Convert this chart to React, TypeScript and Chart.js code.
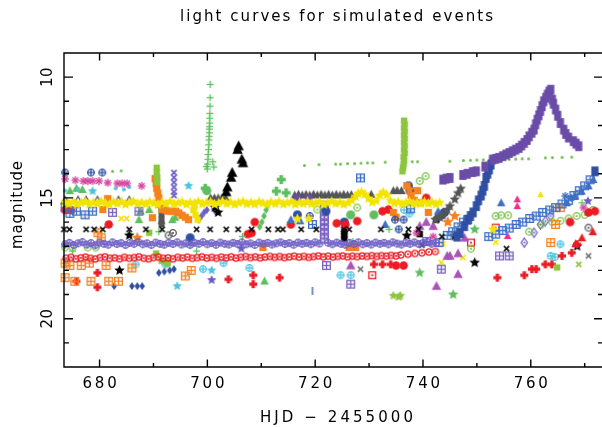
import { useEffect, useRef } from 'react';
import { Chart, registerables } from 'chart.js';

Chart.register(...registerables);

// ---------- axes / text ----------
const xMin = 673.4;
const xMax = 773.4;
const yMin = 9;
const yMax = 22;
const xMajorTicks = [680, 700, 720, 740, 760];
const xMinorTicks = [690, 710, 730, 750, 770];
const yMajorTicks = [10, 15, 20];
const yMinorTicks = [11, 12, 13, 14, 16, 17, 18, 19, 21];
const titleText = 'light curves for simulated events';
const xTitleText = 'HJD − 2455000';
const yTitleText = 'magnitude';

// ---------- data: [HJD-2455000, magnitude] ----------
const yellowStars = [
  [673.6, 15.18], [674.3, 15.25], [675.1, 15.16], [675.8, 15.27], [676.6, 15.2], [677.3, 15.15], [678.1, 15.26], [678.8, 15.19],
  [679.6, 15.24], [680.3, 15.15], [681.1, 15.22], [681.8, 15.28], [682.6, 15.17], [683.3, 15.23], [684.1, 15.16], [684.8, 15.27],
  [685.6, 15.2], [686.3, 15.14], [687.1, 15.25], [687.8, 15.19], [688.6, 15.26], [689.3, 15.16], [690.1, 15.22], [690.8, 15.28],
  [691.6, 15.18], [692.3, 15.24], [693.1, 15.15], [693.8, 15.26], [694.6, 15.2], [695.3, 15.17], [696.1, 15.27], [696.8, 15.19],
  [697.6, 15.23], [698.3, 15.15], [699.1, 15.25], [699.8, 15.2], [700.6, 15.16], [701.3, 15.27], [702.1, 15.21], [702.8, 15.15],
  [703.6, 15.24], [704.3, 15.18], [705.1, 15.27], [705.8, 15.2], [706.6, 15.15], [707.3, 15.25], [708.1, 15.19], [708.8, 15.26],
  [709.6, 15.16], [710.3, 15.22], [711.1, 15.28], [711.8, 15.17], [712.6, 15.24], [713.3, 15.15], [714.1, 15.26], [714.8, 15.2],
  [715.6, 15.16], [716.3, 15.27], [717.1, 15.19], [717.8, 15.23], [718.6, 15.15], [719.3, 15.25], [720.1, 15.2], [720.8, 15.16],
  [721.6, 15.27], [722.3, 15.21], [723.1, 15.15], [723.8, 15.24], [724.6, 15.18], [725.3, 15.27], [726.1, 15.2], [726.8, 15.1],
  [727.5, 14.95], [728.0, 14.82], [728.6, 14.76], [729.2, 14.85], [729.9, 15.02], [730.6, 15.18], [731.3, 15.12], [732.0, 14.9],
  [732.6, 14.76], [733.3, 14.88], [734.0, 15.12], [734.7, 15.22], [735.4, 15.17], [736.1, 15.26], [736.8, 15.2], [737.5, 15.15],
  [738.2, 15.25], [738.9, 15.19], [739.6, 15.24], [740.3, 15.16], [741.0, 15.23], [741.7, 15.18], [742.4, 15.26], [743.1, 15.2],
  [716.7, 15.86], [718.8, 15.86], [753.0, 16.3],
];

const purpleBand = [
  [673.6, 16.92], [674.4, 16.86], [675.2, 16.95], [676.0, 16.88], [676.8, 16.83], [677.6, 16.93], [678.4, 16.87], [679.2, 16.96],
  [680.0, 16.85], [680.8, 16.9], [681.6, 16.94], [682.4, 16.84], [683.2, 16.91], [684.0, 16.87], [684.8, 16.95], [685.6, 16.86],
  [686.4, 16.9], [687.2, 16.83], [688.0, 16.92], [688.8, 16.88], [689.6, 16.95], [690.4, 16.85], [691.2, 16.9], [692.0, 16.94],
  [692.8, 16.86], [693.6, 16.91], [694.4, 16.84], [695.2, 16.93], [696.0, 16.88], [696.8, 16.95], [697.6, 16.86], [698.4, 16.9],
  [699.2, 16.83], [700.0, 16.92], [700.8, 16.87], [701.6, 16.94], [702.4, 16.85], [703.2, 16.9], [704.0, 16.93], [704.8, 16.86],
  [705.6, 16.91], [706.4, 16.84], [707.2, 16.92], [708.0, 16.88], [708.8, 16.95], [709.6, 16.85], [710.4, 16.9], [711.2, 16.86],
  [712.0, 16.93], [712.8, 16.88], [713.6, 16.84], [714.4, 16.91], [715.2, 16.87], [716.0, 16.94], [716.8, 16.85], [717.6, 16.9],
  [718.4, 16.86], [719.2, 16.92], [720.0, 16.84], [720.8, 16.89], [722.4, 16.86], [723.2, 16.92], [724.0, 16.85], [724.8, 16.9],
  [725.6, 16.94], [726.4, 16.86], [727.2, 16.91], [728.0, 16.84], [728.8, 16.92], [729.6, 16.87], [730.4, 16.93], [731.2, 16.85],
  [732.0, 16.9], [732.8, 16.86], [733.6, 16.92], [734.4, 16.84], [735.2, 16.89], [736.0, 16.93], [736.8, 16.86], [737.6, 16.9],
  [738.4, 16.84], [739.2, 16.91], [740.0, 16.87], [740.8, 16.83], [741.6, 16.9], [742.4, 16.86],
];

const redBand = [
  [673.8, 17.5], [674.7, 17.46], [675.6, 17.52], [676.5, 17.48], [677.4, 17.45], [678.3, 17.5], [679.2, 17.53], [680.1, 17.47],
  [681.0, 17.44], [681.9, 17.5], [682.8, 17.48], [683.7, 17.52], [684.6, 17.46], [685.5, 17.5], [686.4, 17.47], [687.3, 17.44],
  [688.2, 17.5], [689.1, 17.52], [690.0, 17.47], [690.9, 17.45], [691.8, 17.5], [692.7, 17.48], [693.6, 17.52], [694.5, 17.46],
  [695.4, 17.49], [696.3, 17.45], [697.2, 17.5], [698.1, 17.47], [699.0, 17.44], [699.9, 17.49], [700.8, 17.46], [701.7, 17.5],
  [702.6, 17.45], [703.5, 17.48], [704.4, 17.44], [705.3, 17.49], [706.2, 17.46], [707.1, 17.43], [708.0, 17.47], [708.9, 17.44],
  [709.8, 17.48], [710.7, 17.45], [711.6, 17.42], [712.5, 17.46], [713.4, 17.43], [714.3, 17.47], [715.2, 17.44], [716.1, 17.41],
  [717.0, 17.45], [717.9, 17.42], [718.8, 17.46], [719.7, 17.43], [720.6, 17.4], [721.5, 17.44], [722.4, 17.41], [723.3, 17.45],
  [724.2, 17.42], [725.1, 17.4], [726.0, 17.44], [726.9, 17.41], [727.8, 17.43], [728.7, 17.4], [729.6, 17.42], [730.5, 17.39],
  [731.4, 17.42], [732.3, 17.39], [733.2, 17.41], [734.1, 17.38], [735.0, 17.4], [735.9, 17.36], [737.2, 17.33], [738.5, 17.3],
  [739.8, 17.27], [741.1, 17.24], [742.3, 17.22],
];

const blackCrosses = [
  [673.4, 16.3], [674.4, 16.3], [677.5, 16.3], [679.0, 16.3], [680.6, 16.3], [685.5, 16.3], [688.6, 16.3], [691.6, 16.3],
  [698.0, 16.3], [700.5, 16.3], [703.5, 16.3], [705.7, 16.3], [708.2, 16.3], [711.3, 16.3], [713.1, 16.3], [714.0, 16.3],
  [717.4, 16.3], [720.2, 16.3], [725.3, 16.3], [726.3, 16.3], [732.2, 16.3], [737.3, 16.3], [739.2, 16.3], [743.5, 16.6],
  [739.8, 16.95], [755.5, 17.1],
];

const grayOpenTriangles = [
  [673.6, 15.1], [676.0, 15.1], [677.5, 15.1], [679.6, 15.1], [683.5, 15.1], [685.5, 15.1],
];

const grayTriangles = [
  [700.6, 15.0], [701.3, 15.0], [702.0, 15.0], [702.7, 15.0], [703.4, 15.0],
  [716.2, 14.88], [716.9, 14.85], [717.6, 14.88], [718.3, 14.85], [719.0, 14.88], [719.7, 14.85], [720.4, 14.88], [721.1, 14.85],
  [721.8, 14.88], [722.5, 14.85], [723.2, 14.88], [723.9, 14.85], [724.6, 14.88], [725.3, 14.85], [726.0, 14.88], [726.7, 14.86],
  [730.4, 14.85], [734.5, 14.7], [735.2, 14.68], [736.0, 14.7],
];

const grayStars = [
  [742.3, 15.9], [743.1, 15.8], [743.7, 15.7], [744.5, 15.5], [745.0, 15.34], [745.9, 15.06], [746.5, 14.8], [747.0, 14.62],
];

const greenPlus = [
  [700.0, 13.8], [700.05, 13.6], [700.1, 13.4], [700.15, 13.2], [700.2, 13.0], [700.25, 12.8], [700.3, 12.6], [700.32, 12.45],
  [700.35, 12.3], [700.37, 12.15], [700.4, 12.05], [700.42, 11.9], [700.44, 11.7], [700.46, 11.5], [700.48, 11.2], [700.5, 10.85],
  [700.52, 10.3], [701.0, 13.5], [701.2, 13.72], [699.8, 13.7],
  [675.0, 17.2], [691.0, 16.4], [697.0, 16.9], [698.0, 17.2], [727.0, 16.8], [733.7, 16.3], [769.5, 15.2], [706.5, 16.6],
];

const limeSquares = [
  [736.5, 11.8], [736.6, 11.95], [736.5, 12.1], [736.6, 12.25], [736.5, 12.4], [736.6, 12.55], [736.5, 12.7], [736.6, 12.85],
  [736.5, 13.0], [736.6, 13.15], [736.4, 13.3], [736.5, 13.45], [736.4, 13.6], [736.3, 13.75], [736.2, 13.9],
  [690.6, 13.75], [690.6, 13.95], [690.7, 14.15], [690.7, 14.35],
  [689.2, 16.44], [690.5, 17.3], [691.5, 17.6], [692.6, 17.7], [764.9, 17.88],
];

const blackTriangles = [
  [703.5, 14.75], [703.7, 14.55], [704.4, 14.15], [704.6, 13.95], [705.6, 13.0], [705.8, 12.85], [706.4, 13.4], [706.6, 13.55],
];

const purpleEvent = [
  [743.7, 14.24], [744.3, 14.2], [745.0, 14.17], [747.4, 14.05], [748.2, 14.0], [749.2, 13.93], [749.9, 13.9], [751.5, 13.7],
  [752.9, 13.41], [753.5, 13.38], [754.1, 13.34], [754.8, 13.27], [755.4, 13.2], [756.0, 13.14], [756.6, 13.07], [757.2, 13.0],
  [757.8, 12.93], [758.3, 12.83], [758.8, 12.72], [759.3, 12.6], [759.7, 12.45], [760.2, 12.3], [760.6, 12.17], [760.9, 11.95],
  [761.2, 11.76], [761.5, 11.58], [761.8, 11.4], [762.1, 11.2], [762.4, 11.0], [762.8, 10.85], [763.1, 10.72], [763.4, 10.6],
  [763.7, 10.52], [764.0, 10.93], [764.2, 11.1], [764.6, 11.34], [765.0, 11.6], [765.5, 11.9], [766.1, 12.17], [766.5, 12.35],
  [767.0, 12.5], [767.9, 12.65], [768.4, 12.75], [768.9, 12.86], [716.7, 15.06], [718.8, 15.06],
];

const blueEvent = [
  [746.3, 16.6], [746.9, 16.45], [747.7, 16.17], [748.3, 15.9], [748.8, 15.75], [749.3, 15.6], [749.9, 15.34], [750.3, 15.1],
  [750.8, 14.9], [751.1, 14.7], [751.4, 14.5], [751.7, 14.17], [752.0, 14.0], [752.3, 13.82], [752.6, 13.62], [771.9, 13.9],
];

const blueSquarePlusA = [
  [673.6, 15.4], [674.5, 15.64], [675.7, 15.55], [677.3, 15.7], [678.7, 15.55], [719.5, 16.1], [737.7, 15.45],
  [743.0, 16.85], [744.5, 16.55], [745.5, 16.4], [746.5, 16.2], [747.5, 16.0], [748.3, 15.9], [728.4, 14.17],
];

const blueSquarePlusB = [
  [752.2, 16.6], [753.5, 16.5], [754.8, 16.35], [756.0, 16.25], [757.3, 16.1], [758.5, 16.0], [759.8, 15.85], [761.0, 15.75],
  [762.2, 15.6], [763.5, 15.5], [764.6, 15.4], [765.8, 15.25], [767.0, 15.1], [768.0, 14.9], [769.0, 14.7], [770.0, 14.5],
  [771.0, 14.25],
];

const blueTriangles = [
  [754.5, 15.2], [766.7, 15.2], [768.2, 14.92], [769.4, 14.72], [770.7, 14.5], [771.6, 14.24], [742.8, 15.55],
  [715.5, 15.9], [717.2, 15.95], [733.0, 16.1],
];

const greenDots = [
  [682.4, 13.9], [684.0, 13.88], [718.0, 13.66], [720.7, 13.62], [723.8, 13.6], [724.7, 13.6], [726.0, 13.58], [727.3, 13.58],
  [728.5, 13.56], [729.7, 13.55], [730.7, 13.55], [733.0, 13.52], [738.0, 13.5], [739.0, 13.5], [745.0, 13.48], [747.5, 13.45],
  [748.8, 13.44], [750.0, 13.43], [751.2, 13.42], [752.4, 13.42], [753.6, 13.41], [754.8, 13.4], [756.0, 13.4], [757.2, 13.39],
  [758.4, 13.38], [759.6, 13.38], [762.7, 13.34], [764.0, 13.33], [765.8, 13.32], [767.6, 13.31],
];

const magentaAsterisks = [
  [673.6, 14.22], [675.5, 14.27], [677.0, 14.3], [677.8, 14.3], [678.7, 14.3], [679.9, 14.3], [681.5, 14.37], [683.3, 14.4],
  [684.2, 14.4], [685.1, 14.4], [687.8, 14.5], [741.9, 16.6], [769.8, 15.4], [738.8, 16.45],
];

const blueCirclePlus = [
  [673.6, 13.95], [678.4, 13.95], [680.5, 13.95], [734.8, 15.9], [736.4, 15.9], [735.5, 16.3], [719.0, 15.75],
];

const orangeSquares = [
  [681.5, 15.03], [680.6, 15.48], [690.3, 14.2], [690.5, 14.4], [690.6, 14.6], [690.8, 14.8], [691.0, 15.0], [691.0, 15.27],
  [691.6, 15.48], [692.2, 15.5], [692.8, 15.55], [693.5, 15.55], [694.1, 15.55], [694.7, 15.62], [695.3, 15.72], [695.9, 15.8],
  [696.5, 15.9], [689.8, 15.82], [726.3, 17.05], [727.5, 17.05], [710.3, 17.05], [737.0, 14.5], [737.8, 14.9], [738.4, 15.1],
  [739.0, 14.7], [739.5, 15.2], [741.0, 15.6], [734.5, 15.6], [735.0, 15.8],
];

const orangeStars = [
  [737.5, 14.65], [745.9, 15.75], [744.6, 16.0], [687.0, 16.65],
];

const orangeSquarePlus = [
  [673.6, 17.7], [674.5, 17.8], [676.6, 17.8], [678.1, 17.7], [681.2, 17.8], [673.6, 18.3], [675.4, 18.45], [678.4, 18.45],
  [681.7, 18.45], [683.5, 18.45], [679.7, 16.44], [680.3, 16.65], [695.9, 18.23], [686.0, 17.9], [697.0, 18.0], [765.5, 15.4],
  [764.6, 16.1], [763.7, 16.85],
];

const redCircles = [
  [707.5, 16.5], [708.2, 16.45], [708.8, 16.0], [715.5, 16.1], [725.6, 16.1], [727.8, 15.96], [733.6, 15.48], [740.6, 15.0],
  [673.6, 15.5], [674.7, 15.5], [735.0, 17.8], [736.4, 17.8], [767.3, 16.0], [770.7, 15.6], [771.9, 15.55], [681.7, 16.1],
  [732.5, 15.55], [724.0, 16.05],
];

const redFatPlus = [
  [679.6, 18.1], [679.6, 18.7], [675.7, 18.45], [703.9, 18.37], [708.5, 18.2], [708.5, 18.57], [713.4, 18.3], [730.9, 17.75],
  [732.5, 17.75], [734.0, 17.75], [753.8, 18.3], [758.8, 18.2], [760.2, 17.95], [761.0, 17.95], [762.7, 17.75], [763.9, 17.75],
  [765.8, 17.4], [767.6, 17.27], [768.6, 16.92],
];

const redTriangles = [
  [769.5, 16.65], [768.3, 16.9], [771.5, 16.4],
];

const blueDiamonds = [
  [682.7, 18.65], [686.0, 18.65], [687.0, 18.65], [687.9, 18.65], [691.0, 18.1], [692.0, 18.05], [693.0, 18.0], [693.8, 17.95],
];

const blueCircles = [
  [696.8, 16.65], [725.4, 16.0], [716.7, 15.7], [737.6, 14.7], [737.3, 14.5], [743.1, 15.75], [744.0, 15.6], [722.0, 15.55],
];

const greenCircles = [
  [726.6, 15.7], [730.9, 15.7], [699.9, 14.7],
];

const orchidTriangles = [
  [740.6, 16.0], [739.4, 16.17], [741.9, 16.17], [747.7, 16.65], [744.5, 17.4], [745.0, 17.4], [746.5, 17.3], [746.5, 18.16],
  [742.5, 18.65], [726.6, 17.8],
];

const greenStars = [
  [749.6, 16.3], [739.4, 18.1], [745.6, 19.0],
];

const limeStars = [
  [734.5, 19.05], [735.5, 19.1], [735.8, 19.05],
];

const blackStars = [
  [683.7, 18.0], [685.5, 16.55], [701.4, 15.4], [702.0, 15.6], [737.0, 16.56], [743.4, 15.7], [745.9, 16.58], [749.6, 17.68],
  [768.6, 17.0],
];

const cyanCircles = [
  [686.7, 17.75], [692.2, 17.75], [703.0, 17.7], [707.8, 17.9], [724.7, 18.2], [726.6, 18.2], [765.5, 16.92], [763.7, 17.4],
  [764.5, 17.45], [699.2, 17.95], [736.5, 15.5], [737.5, 15.65],
];

const cyanStars = [
  [678.7, 14.72], [696.5, 14.5], [700.8, 18.0], [694.4, 18.65],
];

const cyanSmall = [
  [673.6, 14.7], [676.0, 14.62], [683.0, 14.6], [684.5, 14.65], [685.5, 14.55],
];

const greenCircleDots = [
  [673.6, 17.05], [675.0, 17.05], [677.8, 17.05], [679.3, 17.05], [692.5, 17.7], [720.4, 15.48], [727.8, 15.4], [739.4, 14.3],
  [740.5, 14.1], [748.9, 17.1], [753.5, 15.75], [754.5, 15.72], [755.8, 15.72], [759.7, 16.4], [762.0, 16.1], [764.0, 16.0],
  [765.5, 15.95], [767.0, 15.85], [768.5, 15.75], [770.0, 15.7], [771.5, 15.5],
];

const purpleCrosses = [
  [693.8, 13.95], [693.8, 14.15], [693.8, 14.35], [693.8, 14.55], [693.8, 14.75], [693.8, 14.9],
];

const purpleSquarePlus = [
  [721.7, 15.3], [721.7, 15.5], [721.7, 15.7], [721.7, 15.9], [721.7, 16.1], [721.7, 16.3], [721.7, 16.5], [721.7, 16.7],
  [682.4, 15.6], [687.3, 15.55], [722.1, 17.8], [726.6, 18.57], [743.4, 17.95], [754.2, 17.4], [756.0, 17.4], [740.7, 16.8],
];

const purpleDiamonds = [
  [758.8, 16.85], [760.6, 16.44], [761.8, 16.1], [762.7, 15.96], [763.7, 15.75],
];

const graySquares = [
  [691.5, 15.3], [691.5, 15.5], [691.5, 15.7], [691.5, 15.9], [691.5, 16.1],
];

const yellowSquares = [
  [697.6, 15.4], [697.4, 15.5], [697.8, 15.7], [698.2, 15.9],
];

const purpleFilledDiamonds = [
  [698.4, 15.9], [698.9, 15.75], [699.4, 15.6], [699.9, 15.5], [701.2, 15.45], [701.6, 15.6],
];

const greenTriangles = [
  [687.3, 15.9], [689.2, 15.48], [687.6, 15.55], [691.5, 15.95], [693.5, 15.9], [694.0, 15.8], [710.6, 18.44], [674.5, 14.7],
  [675.7, 14.6], [676.8, 14.65],
];

const greenFatCross = [
  [713.7, 14.24], [712.8, 14.72], [714.6, 14.79], [699.6, 14.6],
];

const greenDiamondsDiag = [
  [709.7, 16.2], [710.1, 16.0], [710.5, 15.75], [710.9, 15.5], [711.2, 15.3],
];

const yellowCrosses = [
  [684.0, 15.85], [685.0, 15.85], [753.5, 16.83], [747.4, 17.47], [743.7, 16.9], [743.4, 17.68],
];

const pinkTriangles = [
  [757.5, 15.06], [757.5, 15.34], [755.7, 16.58],
];

const yellowTriangles = [
  [761.8, 14.86],
];

const blueAsterisks = [
  [766.4, 14.92], [767.5, 15.0],
];

const slateStars = [
  [770.6, 15.13], [706.3, 17.1], [700.8, 18.4],
];

const grayCircleDots = [
  [770.7, 16.23], [692.8, 16.55], [693.6, 16.45],
];

const grayCrosses = [
  [770.7, 17.4], [728.4, 17.95],
];

const limeCrosses = [
  [768.9, 17.75],
];

const blackSquares = [
  [742.5, 15.9], [743.4, 15.7], [739.4, 16.5], [725.4, 16.4], [725.4, 16.55], [725.4, 16.7],
];

const redSquareDots = [
  [753.5, 16.23], [748.9, 16.85], [730.6, 18.2],
];

const blueDashes = [
  [719.5, 18.85],
];

// ---------- styles ----------
const YELLOW = '#f2e400';
const SLATE = '#6c5dc4';
const RED = '#ec1c24';
const GRAY = '#555555';
const GREEN = '#5fbf5f';
const LIME = '#8cc63e';
const PURPLE = '#6a4ca8';
const ROYAL = '#2f4fa3';
const BLUE = '#3e70c4';
const ORANGE = '#f5821f';
const MAGENTA = '#d6409c';
const PINK = '#e8308a';
const ORCHID = '#a855b5';
const CYAN = '#4ec3e0';

const seriesSpecs = [
  { pts: yellowStars, kind: 'star5', color: YELLOW, size: 11 },
  { pts: redBand, kind: 'odot', color: RED, size: 7.5 },
  { pts: purpleBand, kind: 'oplus', color: SLATE, size: 8 },
  { pts: blackCrosses, kind: 'x', color: '#111111', size: 7 },
  { pts: purpleEvent, kind: 'tall', color: PURPLE, size: 10 },
  { pts: blueEvent, kind: 'tall', color: ROYAL, size: 10 },
  { pts: blackTriangles, kind: 'tri', color: '#000000', size: 11 },
  { pts: greenPlus, kind: 'plus', color: GREEN, size: 7 },
  { pts: limeSquares, kind: 'sq', color: LIME, size: 7.5 },
  { pts: greenDots, kind: 'dot', color: '#6cbf4a', size: 3 },
  { pts: grayOpenTriangles, kind: 'otri', color: GRAY, size: 8 },
  { pts: grayTriangles, kind: 'tri', color: GRAY, size: 9 },
  { pts: grayStars, kind: 'star5', color: GRAY, size: 11 },
  { pts: blueSquarePlusA, kind: 'splus', color: BLUE, size: 9 },
  { pts: blueSquarePlusB, kind: 'splus', color: BLUE, size: 9 },
  { pts: blueTriangles, kind: 'tri', color: BLUE, size: 9 },
  { pts: magentaAsterisks, kind: 'ast', color: MAGENTA, size: 8 },
  { pts: blueCirclePlus, kind: 'oplus', color: ROYAL, size: 8 },
  { pts: orangeSquares, kind: 'sq', color: ORANGE, size: 8.5 },
  { pts: orangeStars, kind: 'star5', color: ORANGE, size: 12 },
  { pts: orangeSquarePlus, kind: 'splus', color: ORANGE, size: 9 },
  { pts: redCircles, kind: 'circ', color: RED, size: 8.5 },
  { pts: redFatPlus, kind: 'fplus', color: RED, size: 8 },
  { pts: redTriangles, kind: 'tri', color: RED, size: 9 },
  { pts: blueDiamonds, kind: 'fdia', color: ROYAL, size: 8 },
  { pts: blueCircles, kind: 'circ', color: ROYAL, size: 9 },
  { pts: greenCircles, kind: 'circ', color: GREEN, size: 9 },
  { pts: orchidTriangles, kind: 'tri', color: ORCHID, size: 10 },
  { pts: greenStars, kind: 'star5', color: GREEN, size: 11 },
  { pts: limeStars, kind: 'star5', color: LIME, size: 10 },
  { pts: blackStars, kind: 'star5', color: '#000000', size: 11 },
  { pts: cyanCircles, kind: 'oplus', color: CYAN, size: 8 },
  { pts: cyanStars, kind: 'star5', color: CYAN, size: 10 },
  { pts: cyanSmall, kind: 'dot', color: CYAN, size: 4 },
  { pts: greenCircleDots, kind: 'odot', color: '#77c043', size: 8 },
  { pts: purpleCrosses, kind: 'x', color: SLATE, size: 7 },
  { pts: purpleSquarePlus, kind: 'splus', color: '#7a62c4', size: 9 },
  { pts: purpleDiamonds, kind: 'dia', color: '#7a62c4', size: 9 },
  { pts: graySquares, kind: 'sq', color: GRAY, size: 7 },
  { pts: yellowSquares, kind: 'sq', color: YELLOW, size: 7.5 },
  { pts: purpleFilledDiamonds, kind: 'fdia', color: SLATE, size: 8 },
  { pts: greenTriangles, kind: 'tri', color: GREEN, size: 9 },
  { pts: greenFatCross, kind: 'fplus', color: GREEN, size: 9 },
  { pts: greenDiamondsDiag, kind: 'fdia', color: GREEN, size: 8 },
  { pts: yellowCrosses, kind: 'x', color: YELLOW, size: 7 },
  { pts: pinkTriangles, kind: 'tri', color: PINK, size: 8 },
  { pts: yellowTriangles, kind: 'tri', color: YELLOW, size: 7 },
  { pts: blueAsterisks, kind: 'ast', color: BLUE, size: 8 },
  { pts: slateStars, kind: 'star5', color: SLATE, size: 10 },
  { pts: grayCircleDots, kind: 'odot', color: GRAY, size: 8 },
  { pts: grayCrosses, kind: 'x', color: '#777777', size: 7 },
  { pts: limeCrosses, kind: 'x', color: LIME, size: 7 },
  { pts: blackSquares, kind: 'sq', color: '#000000', size: 7.5 },
  { pts: redSquareDots, kind: 'sdot', color: RED, size: 8 },
  { pts: blueDashes, kind: 'vline', color: BLUE, size: 8 },
];

function makeSymbol(kind: string, color: string, size: number) {
  const pad = 3;
  const dim = Math.ceil(size) + pad * 2;
  const c = document.createElement('canvas');
  c.width = dim;
  c.height = dim;
  const g = c.getContext('2d') as CanvasRenderingContext2D;
  g.translate(dim / 2, dim / 2);
  const r = size / 2;
  g.fillStyle = color;
  g.strokeStyle = color;
  g.lineWidth = 1.3;
  const line = (x1: number, y1: number, x2: number, y2: number) => {
    g.beginPath();
    g.moveTo(x1, y1);
    g.lineTo(x2, y2);
    g.stroke();
  };
  const dot = () => {
    g.beginPath();
    g.arc(0, 0, 1.1, 0, Math.PI * 2);
    g.fill();
  };
  switch (kind) {
    case 'star5': {
      g.beginPath();
      for (let i = 0; i < 10; i++) {
        const a = -Math.PI / 2 + (i * Math.PI) / 5;
        const rr = i % 2 === 0 ? r : r * 0.47;
        g.lineTo(Math.cos(a) * rr, Math.sin(a) * rr);
      }
      g.closePath();
      g.fill();
      break;
    }
    case 'oplus':
      g.beginPath();
      g.arc(0, 0, r - 0.7, 0, Math.PI * 2);
      g.stroke();
      line(-r + 0.7, 0, r - 0.7, 0);
      line(0, -r + 0.7, 0, r - 0.7);
      break;
    case 'odot':
      g.beginPath();
      g.arc(0, 0, r - 0.7, 0, Math.PI * 2);
      g.stroke();
      dot();
      break;
    case 'splus': {
      const h = r * 0.85;
      g.strokeRect(-h, -h, 2 * h, 2 * h);
      line(-h, 0, h, 0);
      line(0, -h, 0, h);
      break;
    }
    case 'sdot': {
      const h = r * 0.85;
      g.strokeRect(-h, -h, 2 * h, 2 * h);
      dot();
      break;
    }
    case 'tri':
    case 'otri':
      g.beginPath();
      g.moveTo(0, -r);
      g.lineTo(r * 0.95, r * 0.75);
      g.lineTo(-r * 0.95, r * 0.75);
      g.closePath();
      if (kind === 'tri') g.fill();
      else g.stroke();
      break;
    case 'sq': {
      const h = r * 0.85;
      g.fillRect(-h, -h, 2 * h, 2 * h);
      break;
    }
    case 'tall': {
      const w = r * 0.72;
      const h = r * 0.98;
      g.beginPath();
      g.moveTo(-w, -h);
      g.lineTo(w, -h);
      g.lineTo(w, h);
      g.lineTo(-w, h);
      g.closePath();
      g.fill();
      break;
    }
    case 'circ':
      g.beginPath();
      g.arc(0, 0, r, 0, Math.PI * 2);
      g.fill();
      break;
    case 'x':
      g.lineWidth = 1.6;
      line(-r * 0.75, -r * 0.75, r * 0.75, r * 0.75);
      line(-r * 0.75, r * 0.75, r * 0.75, -r * 0.75);
      break;
    case 'plus':
      line(-r, 0, r, 0);
      line(0, -r, 0, r);
      break;
    case 'fplus': {
      const w = r * 0.4;
      g.fillRect(-r, -w, 2 * r, 2 * w);
      g.fillRect(-w, -r, 2 * w, 2 * r);
      break;
    }
    case 'ast':
      for (let k = 0; k < 4; k++) {
        const a = (k * Math.PI) / 4;
        line(-Math.cos(a) * r, -Math.sin(a) * r, Math.cos(a) * r, Math.sin(a) * r);
      }
      break;
    case 'dia':
    case 'fdia':
      g.beginPath();
      g.moveTo(0, -r);
      g.lineTo(r * 0.7, 0);
      g.lineTo(0, r);
      g.lineTo(-r * 0.7, 0);
      g.closePath();
      if (kind === 'fdia') g.fill();
      else {
        g.stroke();
        dot();
      }
      break;
    case 'dot':
      g.beginPath();
      g.arc(0, 0, r, 0, Math.PI * 2);
      g.fill();
      break;
    case 'vline':
      g.lineWidth = 1.5;
      line(0, -r, 0, r);
      break;
    default:
      break;
  }
  return c;
}

const FONT = "15px 'DejaVu Sans'";

function spacedText(ctx: CanvasRenderingContext2D, text: string, cx: number, baseY: number, gap: number) {
  const chars = Array.from(text);
  const widths = chars.map((ch) => ctx.measureText(ch).width);
  const total = widths.reduce((a, b) => a + b, 0) + gap * (chars.length - 1);
  let x = cx - total / 2;
  ctx.textAlign = 'left';
  ctx.textBaseline = 'alphabetic';
  chars.forEach((ch, i) => {
    ctx.fillText(ch, x, baseY);
    x += widths[i] + gap;
  });
}

function gapFor(ctx: CanvasRenderingContext2D, text: string, target: number) {
  const chars = Array.from(text);
  const sum = chars.reduce((a, ch) => a + ctx.measureText(ch).width, 0);
  return chars.length > 1 ? (target - sum) / (chars.length - 1) : 0;
}

const framePlugin = {
  id: 'pgFrame',
  afterDatasetsDraw(chart: any) {
    const { ctx, chartArea: a, scales } = chart;
    const xs = scales.x;
    const ys = scales.y;
    ctx.save();
    ctx.strokeStyle = '#000';
    ctx.lineWidth = 1.4;
    ctx.beginPath();
    ctx.rect(a.left, a.top, a.right - a.left, a.bottom - a.top);
    const xt = (v: number, len: number) => {
      const p = xs.getPixelForValue(v);
      ctx.moveTo(p, a.bottom);
      ctx.lineTo(p, a.bottom - len);
      ctx.moveTo(p, a.top);
      ctx.lineTo(p, a.top + len);
    };
    const yt = (v: number, len: number) => {
      const p = ys.getPixelForValue(v);
      ctx.moveTo(a.left, p);
      ctx.lineTo(a.left + len, p);
      ctx.moveTo(a.right, p);
      ctx.lineTo(a.right - len, p);
    };
    xMajorTicks.forEach((v) => xt(v, 7.5));
    xMinorTicks.forEach((v) => xt(v, 4));
    yMajorTicks.forEach((v) => yt(v, 9));
    yMinorTicks.forEach((v) => yt(v, 5));
    ctx.stroke();

    ctx.fillStyle = '#000';
    ctx.font = FONT;
    xMajorTicks.forEach((v) => {
      spacedText(ctx, String(v), xs.getPixelForValue(v), 387.5, 2.8);
    });
    yMajorTicks.forEach((v) => {
      ctx.save();
      ctx.translate(51.5, ys.getPixelForValue(v));
      ctx.rotate(-Math.PI / 2);
      spacedText(ctx, String(v), 0, 0, 0.5);
      ctx.restore();
    });
    spacedText(ctx, titleText, 336.5, 21, gapFor(ctx, titleText, 313));
    spacedText(ctx, xTitleText, 336.5, 422, gapFor(ctx, xTitleText, 153));
    ctx.save();
    ctx.translate(22, 205);
    ctx.rotate(-Math.PI / 2);
    spacedText(ctx, yTitleText, 0, 0, gapFor(ctx, yTitleText, 88));
    ctx.restore();
    ctx.restore();
  },
};

export default function App() {
  const ref = useRef<HTMLCanvasElement | null>(null);
  useEffect(() => {
    const canvas = ref.current;
    if (!canvas) return;
    const datasets = seriesSpecs.map((s) => ({
      data: s.pts.map(([x, y]) => ({ x, y })),
      pointStyle: makeSymbol(s.kind, s.color, s.size),
      pointRadius: s.size / 2,
      pointHoverRadius: s.size / 2,
      showLine: false,
      clip: false as any,
    }));
    const chart = new Chart(canvas, {
      type: 'scatter',
      data: { datasets: datasets as any },
      options: {
        animation: false,
        responsive: false,
        events: [],
        layout: { padding: { left: 64, top: 53, right: 2, bottom: 60 } },
        plugins: {
          legend: { display: false },
          tooltip: { enabled: false },
          title: { display: false },
        },
        scales: {
          x: { type: 'linear', min: xMin, max: xMax, display: false },
          y: { type: 'linear', min: yMin, max: yMax, reverse: true, display: false },
        },
      },
      plugins: [framePlugin as any],
    });
    return () => chart.destroy();
  }, []);
  return (
    <div style={{ position: 'fixed', left: 0, top: 0, width: 602, height: 427, overflow: 'hidden', background: '#fff' }}>
      <canvas ref={ref} width={610} height={427} style={{ display: 'block', width: 610, height: 427 }} />
    </div>
  );
}
